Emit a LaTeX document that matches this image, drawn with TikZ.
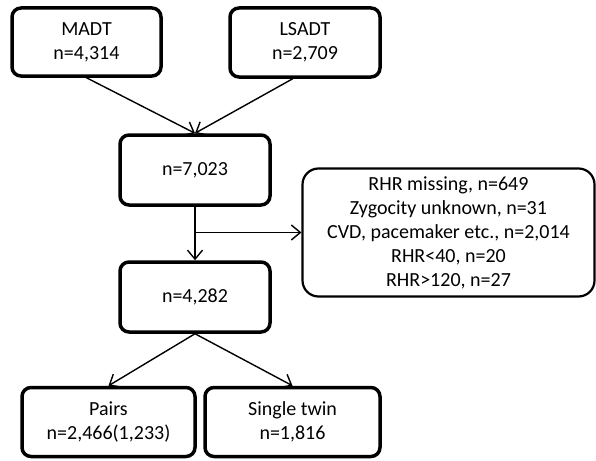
\documentclass[tikz,border=0pt]{standalone}
\usepackage{fontspec}
\setmainfont{Carlito}
\usetikzlibrary{arrows.meta,calc}

\begin{document}
\begin{tikzpicture}[x=1pt, y=-1pt,
  box/.style={shape=rectangle, draw=black, line width=3.5pt, rounded corners=9pt,
    align=center, inner sep=0pt, font=\fontsize{20}{24}\selectfont},
  exclbox/.style={box, line width=2.2pt, rounded corners=16pt},
  arr/.style={-{Straight Barb[length=9pt,width=15pt]}, line width=1.4pt, draw=black}]
\useasboundingbox (0,0) rectangle (596,460);
% cohorts
\node[box, minimum width=149pt, minimum height=68pt] (madt) at (86.5,42) {MADT\\n=4,314};
\node[box, minimum width=150pt, minimum height=69pt] (lsadt) at (305,42.5) {LSADT\\n=2,709};
% combined and exclusions
\node[box, minimum width=150pt, minimum height=70pt] (all) at (195,170) {n=7,023};
\node[exclbox, minimum width=292pt, minimum height=128pt] (excl) at (448.5,232.5) {RHR missing, n=649\\Zygocity unknown, n=31\\CVD, pacemaker etc., n=2,014\\RHR<40, n=20\\RHR>120, n=27};
\node[box, minimum width=150pt, minimum height=70pt] (kept) at (195,297) {n=4,282};
% final split
\node[box, minimum width=173pt, minimum height=69pt] (pairs) at (108.5,422) {Pairs\\n=2,466(1,233)};
\node[box, minimum width=175pt, minimum height=69pt] (single) at (292.5,422) {Single twin\\n=1,816};
\coordinate (branch) at (all.south |- excl.west);
\draw[arr] (madt.south) -- (all.north);
\draw[arr] ($(lsadt.south west)!0.42!(lsadt.south east)$) -- (all.north);
\draw[arr] (all.south) -- (kept.north);
\draw[arr] (branch) -- (excl.west);
\draw[arr] (kept.south) -- (pairs.north);
\draw[arr] (kept.south) -- (single.north);
\end{tikzpicture}
\end{document}
